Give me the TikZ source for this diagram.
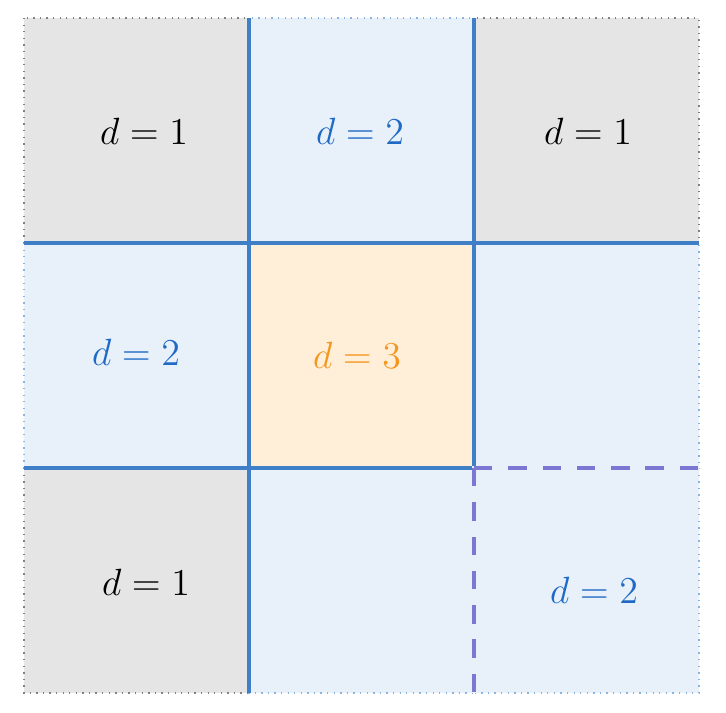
\documentclass[tikz,border=0pt]{standalone}
\usepackage{tikz}
\definecolor{cgray}{HTML}{E5E5E5}
\definecolor{cblue}{HTML}{E8F0FA}
\definecolor{corange}{HTML}{FFEFD9}
\definecolor{lineblue}{HTML}{3F7FC8}
\definecolor{txtblue}{HTML}{1F6AC4}
\definecolor{txtorange}{HTML}{F5961E}
\definecolor{dashpurple}{HTML}{7B78D4}
\tikzset{
  graycell/.style={fill=cgray, draw=gray, dotted, line width=0.5pt},
  bluecell/.style={fill=cblue, draw=lineblue!60, dotted, line width=0.5pt},
  orangecell/.style={fill=corange, draw=none},
  wall/.style={draw=lineblue, line width=1.8pt},
  gapfill/.style={draw=cblue, line width=1.2pt},
  dashwall/.style={draw=dashpurple, line width=1.2pt, solid, dash pattern=on 7pt off 6pt},
  lbl/.style={font=\Large, inner sep=0pt},
}
\begin{document}
\begin{tikzpicture}[x=0.013333cm, y=-0.013333cm]
\useasboundingbox (0,0) rectangle (726,712);
% cells
\path[graycell] (24,18) rectangle (249,243);
\path[bluecell] (249,18) rectangle (474,243);
\path[graycell] (474,18) rectangle (699,243);
\path[bluecell] (24,243) rectangle (249,468);
\path[orangecell] (249,243) rectangle (474,468);
\path[bluecell] (474,243) rectangle (699,468);
\path[graycell] (24,468) rectangle (249,693);
\path[bluecell] (249,468) rectangle (474,693);
\path[fill=cblue] (474,468) rectangle (699,693);
\draw[draw=lineblue!60, dotted, line width=0.5pt] (699,468) -- (699,693) -- (474,693);
% coordinates
\coordinate (v1t) at (249,18);
\coordinate (v1b) at (249,693);
\coordinate (v2t) at (474,18);
\coordinate (v2m) at (474,468);
\coordinate (v2b) at (474,693);
\coordinate (h1l) at (24,243);
\coordinate (h1r) at (699,243);
\coordinate (h2l) at (24,468);
\coordinate (h2r) at (699,468);
% walls
\draw[wall] (v1t) -- (v1b);
\draw[wall] (v2t) -- (v2m);
\draw[wall] (h1l) -- (h1r);
\draw[wall] (h2l) -- (v2m);
% dashed
\draw[gapfill] (h2r) -- (v2m) -- (v2b);
\draw[dashwall] (v2m) -- (h2r);
\draw[dashwall] (v2m) -- (v2b);
% labels
\node[lbl] (a) at (144,131) {$d=1$};
\node[lbl, text=txtblue] (b) at (360,131) {$d=2$};
\node[lbl] (c) at (588,131) {$d=1$};
\node[lbl, text=txtblue] (d) at (136,352) {$d=2$};
\node[lbl, text=txtorange] (e) at (357,355) {$d=3$};
\node[lbl] (f) at (146,582) {$d=1$};
\node[lbl, text=txtblue] (g) at (594,590) {$d=2$};
\end{tikzpicture}
\end{document}
